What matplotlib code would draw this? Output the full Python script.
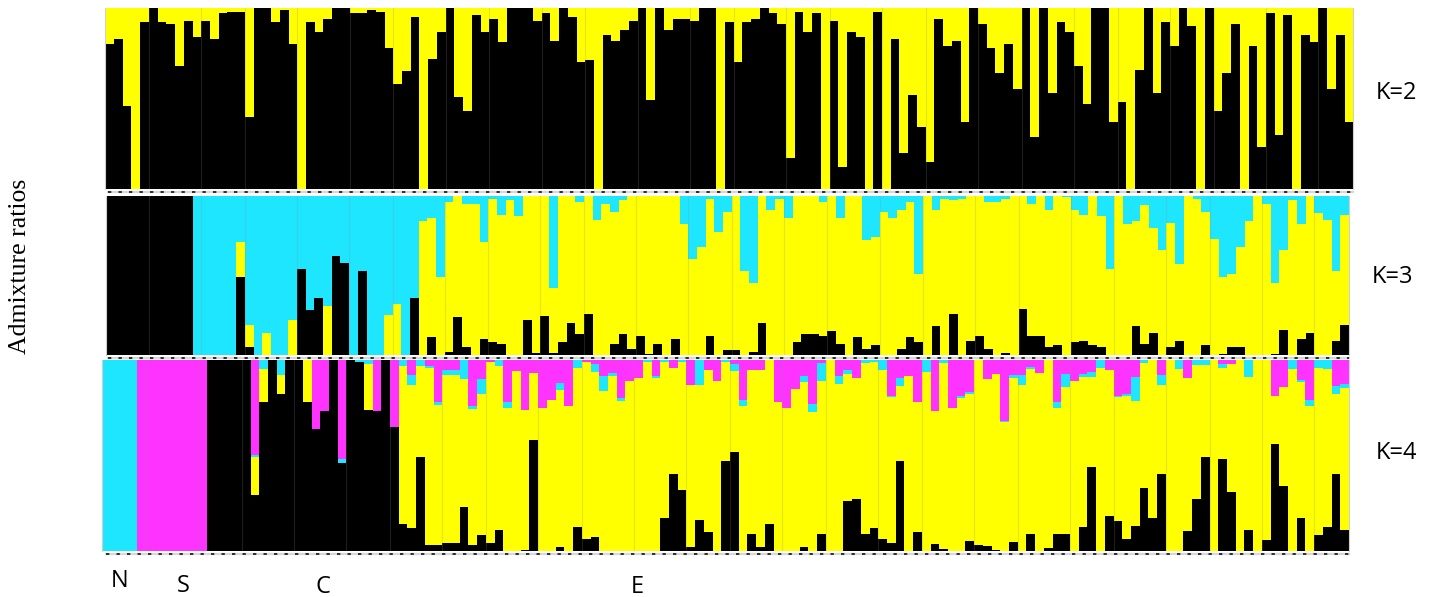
import numpy as np
import matplotlib
matplotlib.use("Agg")
import matplotlib.pyplot as plt
from matplotlib.lines import Line2D

# ---------------- data ----------------
# K=2 : black ancestry fraction per individual (rest yellow)
k2_black = [0.80, 0.83, 0.46, 0.0, 0.92, 1.0, 0.92, 0.91, 0.68, 0.93, 0.84, 0.93, 0.83, 0.97, 0.98, 0.98, 0.40, 1.0, 1.0, 0.92, 0.99, 0.80, 0.0,
            0.92, 0.87, 0.94, 1.0, 1.0, 0.97, 0.97, 0.99, 0.98, 0.78, 0.58, 0.65, 0.95, 0.0, 0.72, 0.87, 1.0, 0.51, 0.43, 0.96, 0.87, 0.94, 0.81, 1.0,
            1.0, 1.0, 0.93, 0.97, 0.82, 1.0, 0.95, 0.70, 0.71, 0.0, 0.85, 0.82, 0.88, 0.93, 1.0, 0.49, 1.0, 0.88, 0.94, 0.94, 0.93, 1.0, 1.0, 0.0,
            0.92, 0.70, 0.92, 0.94, 1.0, 0.97, 0.91, 0.17, 0.98, 0.87, 0.97, 0.0, 0.93, 0.12, 0.87, 0.84, 0.0, 0.98, 0.0, 0.83, 0.20, 0.52, 0.34, 0.15,
            0.94, 0.79, 0.82, 0.37, 1.0, 0.91, 0.78, 0.64, 0.80, 0.55, 1.0, 0.29, 1.0, 0.53, 0.92, 0.87, 0.68, 0.47, 1.0, 1.0, 0.37, 0.48, 0.0, 0.66,
            1.0, 0.53, 0.92, 0.79, 1.0, 0.90, 0.0, 1.0, 0.43, 0.64, 0.91, 0.0, 0.79, 0.23, 0.97, 0.30, 0.96, 0.0, 0.85, 0.81, 1.0, 0.55, 0.85, 0.37]

# K=3 : black (bottom) and cyan (top) fractions; yellow is the remainder
k3_black = [1, 1, 1, 1, 1, 1, 1, 1, 1, 1, 0, 0, 0, 0, 0,
            0.49, 0.05, 0, 0, 0, 0, 0, 0.54, 0.28, 0.36, 0, 0.62, 0.58, 0, 0.53,
            0, 0, 0, 0, 0, 0.36, 0, 0.11, 0, 0.02, 0.24, 0.05, 0, 0.10, 0.08,
            0.07, 0, 0, 0.22, 0.01, 0.245, 0.01, 0.08, 0.20, 0.13, 0.26, 0, 0, 0.07, 0.13,
            0.04, 0.12, 0.005, 0.07, 0, 0.10, 0, 0, 0, 0.12, 0, 0.03, 0.03, 0, 0.02,
            0.20, 0, 0, 0, 0.08, 0.13, 0.13, 0.12, 0.15, 0.07, 0, 0.11, 0.04, 0.06, 0,
            0, 0.04, 0.11, 0.08, 0, 0.18, 0, 0.26, 0, 0.09, 0.12, 0.04, 0, 0.01, 0,
            0.29, 0.12, 0.12, 0.05, 0.06, 0, 0.08, 0.09, 0.06, 0.05, 0, 0, 0, 0.18, 0.07,
            0.14, 0, 0.05, 0.09, 0, 0, 0.06, 0, 0.005, 0.05, 0.05, 0, 0, 0, 0.005,
            0.16, 0, 0.10, 0.14, 0, 0, 0.09, 0.19]
k3_cyan = [0, 0, 0, 0, 0, 0, 0, 0, 0, 0, 1, 1, 1, 1, 1,
           0.29, 0.81, 1, 0.86, 1, 1, 0.78, 0.46, 0.72, 0.64, 0.69, 0.38, 0.42, 1, 0.47,
           1, 1, 0.75, 0.68, 1, 0.64, 0.16, 0.14, 0.51, 0.04, 0, 0.05, 0.05, 0.29, 0.02,
           0.12, 0.03, 0.13, 0, 0, 0, 0.58, 0, 0, 0.04, 0, 0.15, 0.05, 0.10, 0.03,
           0, 0, 0, 0, 0, 0, 0.18, 0.40, 0.32, 0.02, 0.23, 0.10, 0, 0.47, 0.55,
           0, 0.09, 0.02, 0.14, 0, 0, 0, 0.04, 0, 0.14, 0, 0, 0.28, 0.26, 0.10,
           0.14, 0.09, 0.04, 0.49, 0, 0.09, 0.02, 0.03, 0.02, 0, 0, 0.04, 0.04, 0.02, 0,
           0, 0.05, 0, 0.09, 0, 0.01, 0.09, 0.12, 0, 0.13, 0.46, 0, 0.18, 0.16, 0.06,
           0.20, 0.34, 0.17, 0.43, 0, 0.02, 0.10, 0.27, 0.51, 0.49, 0.32, 0.16, 0, 0.05, 0.55,
           0.34, 0.03, 0.18, 0, 0.11, 0.15, 0.47, 0.12]

# K=4 : magenta (top), cyan (below magenta), black (bottom); yellow is the remainder
k4_magenta = [0, 0, 0, 0, 1, 1, 1, 1, 1, 1, 1, 1, 0, 0, 0, 0, 0,
              0.50, 0, 0, 0, 0, 0, 0, 0.36, 0.27, 0, 0.52, 0, 0, 0, 0.27, 0, 0.35, 0, 0.08,
              0, 0.03, 0.22, 0.05, 0.05, 0, 0.24, 0.10, 0.01, 0, 0.22, 0.06, 0.26, 0.07, 0.25,
              0.21, 0.12, 0.24, 0, 0.01, 0.02, 0.085, 0.07, 0.20, 0.11, 0.095, 0, 0.085, 0, 0.04,
              0, 0.13, 0, 0.05, 0.11, 0, 0.02, 0.21, 0.05, 0.05, 0, 0.22, 0.25, 0.15, 0.085,
              0.23, 0.015, 0, 0.085, 0.05, 0.095, 0, 0, 0, 0.19, 0.095, 0.083, 0.22, 0, 0.27,
              0, 0.25, 0.19, 0.17, 0, 0.10, 0.075, 0.32, 0.08, 0.08, 0.035, 0.07, 0, 0.22, 0.073,
              0.11, 0.075, 0.065, 0, 0.053, 0.19, 0.18, 0.09, 0, 0, 0.08, 0, 0, 0.093, 0,
              0, 0, 0.02, 0.02, 0, 0, 0, 0, 0.19, 0.14, 0, 0.105, 0.21, 0, 0, 0.135, 0.125]
k4_cyan = [1, 1, 1, 1, 0, 0, 0, 0, 0, 0, 0, 0, 0, 0, 0, 0, 0,
           0.01, 0.045, 0, 0.08, 0, 0, 0, 0, 0, 0, 0.02, 0, 0.01, 0.02, 0, 0, 0, 0.03, 0.05,
           0.03, 0.01, 0.014, 0.03, 0.03, 0.10, 0.015, 0.08, 0, 0.03, 0.03, 0, 0, 0, 0,
           0, 0.035, 0, 0.04, 0, 0.045, 0.08, 0.016, 0.015, 0, 0, 0.01, 0.01, 0.01, 0,
           0.01, 0, 0.13, 0, 0, 0.01, 0.04, 0.03, 0, 0, 0, 0, 0, 0, 0.03,
           0.045, 0.095, 0, 0.04, 0.025, 0, 0.015, 0.012, 0.05, 0.006, 0.04, 0, 0, 0.065, 0,
           0.015, 0, 0.01, 0.01, 0, 0, 0, 0.005, 0.015, 0.05, 0.014, 0, 0, 0.03, 0.07,
           0, 0.015, 0.025, 0.04, 0, 0.006, 0.01, 0.125, 0.015, 0, 0.05, 0, 0.045, 0, 0.024,
           0.024, 0, 0.02, 0, 0, 0.09, 0, 0, 0, 0, 0.045, 0.01, 0.03, 0.04, 0.045, 0.045, 0.02]
k4_black = [0, 0, 0, 0, 0, 0, 0, 0, 0, 0, 0, 0, 1, 1, 1, 1, 1,
            0.29, 0.78, 1, 0.82, 1, 1, 0.78, 0.64, 0.73, 1, 0.46, 1, 0.99, 0.74, 0.73, 1, 0.65, 0.14, 0.12,
            0.49, 0.03, 0.03, 0.04, 0.04, 0.23, 0.03, 0.08, 0.04, 0.11, 0, 0, 0.005, 0.58, 0,
            0, 0.02, 0, 0.125, 0.06, 0.07, 0, 0, 0, 0, 0, 0, 0, 0.17, 0.40,
            0.32, 0.02, 0.16, 0.10, 0, 0.47, 0.52, 0, 0.09, 0.02, 0.14, 0, 0, 0, 0.02,
            0, 0.09, 0, 0, 0.26, 0.27, 0.09, 0.12, 0.06, 0.04, 0.47, 0, 0.10, 0, 0.035,
            0.01, 0, 0, 0.05, 0.03, 0.025, 0.005, 0, 0.045, 0, 0.09, 0, 0.015, 0.09, 0.09,
            0, 0.125, 0.44, 0, 0.18, 0.155, 0.06, 0.13, 0.33, 0.17, 0.40, 0, 0, 0.105, 0.27,
            0.49, 0, 0.48, 0.31, 0, 0.107, 0, 0.055, 0.56, 0.34, 0, 0.17, 0, 0.083, 0.125, 0.40, 0.11]

panel_labels = ["K=2", "K=3", "K=4"]
group_labels = ["N", "S", "C", "E"]
# thin separators between sample blocks (bar index of the boundary)
block_edges = [5, 11, 16, 22, 28, 33, 39, 44, 50, 55, 61, 67, 72, 78, 83, 89, 94,
               100, 105, 111, 116, 122, 127, 133, 139]

YEL = "#FFFF00"
BLK = "#000000"
CYN = "#1EE6FF"
MAG = "#FF33FF"

W, H = 1434, 597
fig = plt.figure(figsize=(W / 100, H / 100), dpi=100)


def add_axes_px(left, top, right, bottom):
    return fig.add_axes([left / W, 1 - bottom / H, (right - left) / W, (bottom - top) / H])


def stack(ax, layers):
    n = len(layers[0][0])
    x = np.arange(n)
    base = np.zeros(n)
    for vals, col in layers:
        v = np.asarray(vals, dtype=float)
        ax.bar(x, v, width=1.0, bottom=base, align="edge", color=col,
               linewidth=0, antialiased=False)
        base = base + v
    ax.set_xlim(0, n)
    ax.set_ylim(0, 1)
    ax.set_xticks([])
    ax.set_yticks([])
    for s in ["top", "bottom"]:
        ax.spines[s].set_visible(False)
    for s in ["left", "right"]:
        ax.spines[s].set_color("#cfcfcf")
        ax.spines[s].set_linewidth(0.8)
    for e in block_edges:
        ax.axvline(e, color="#8a8a8a", lw=0.8, alpha=0.22)
    return n


# K=2
ax2 = add_axes_px(105.3, 8, 1353.3, 189)
k2b = np.array(k2_black)
stack(ax2, [(k2b, BLK), (1 - k2b, YEL)])

# K=3
ax3 = add_axes_px(105.7, 195.7, 1349, 355)
k3b = np.array(k3_black)
k3c = np.array(k3_cyan)
stack(ax3, [(k3b, BLK), (1 - k3b - k3c, YEL), (k3c, CYN)])

# K=4
ax4 = add_axes_px(102.3, 360, 1349, 550.7)
k4m = np.array(k4_magenta)
k4c = np.array(k4_cyan)
k4b = np.array(k4_black)
stack(ax4, [(k4b, BLK), (1 - k4b - k4c - k4m, YEL), (k4c, CYN), (k4m, MAG)])

# dotted base lines under each panel
for y, x0, x1 in [(192.3, 108, 1353), (358.3, 108, 1349), (554.3, 106, 1349)]:
    fig.add_artist(Line2D([x0 / W, x1 / W], [1 - y / H, 1 - y / H], transform=fig.transFigure,
                          color="#d8d8d8", lw=1.6))
    fig.add_artist(Line2D([x0 / W, x1 / W], [1 - y / H, 1 - y / H], transform=fig.transFigure,
                          color="#111111", lw=1.2, dashes=(2.0, 4.3)))

# panel labels
lab_font = ["Open Sans", "DejaVu Sans"]
for txt, (x, y) in zip(panel_labels, [(1396, 93), (1392, 277), (1396, 453)]):
    fig.text(x / W, 1 - y / H, txt, ha="center", va="center", fontsize=17,
             family=lab_font, color="black")

# group labels
for txt, (x, y) in zip(group_labels, [(120, 581), (183, 586), (323, 587), (637, 587)]):
    fig.text(x / W, 1 - y / H, txt, ha="center", va="center", fontsize=17,
             family=lab_font, color="black")

fig.text(20 / W, 1 - 266 / H, "Admixture ratios", rotation=90, ha="center", va="center",
         fontsize=18.5, family=["Liberation Serif", "DejaVu Serif"], color="black")

fig.savefig("out.png", dpi=100)
